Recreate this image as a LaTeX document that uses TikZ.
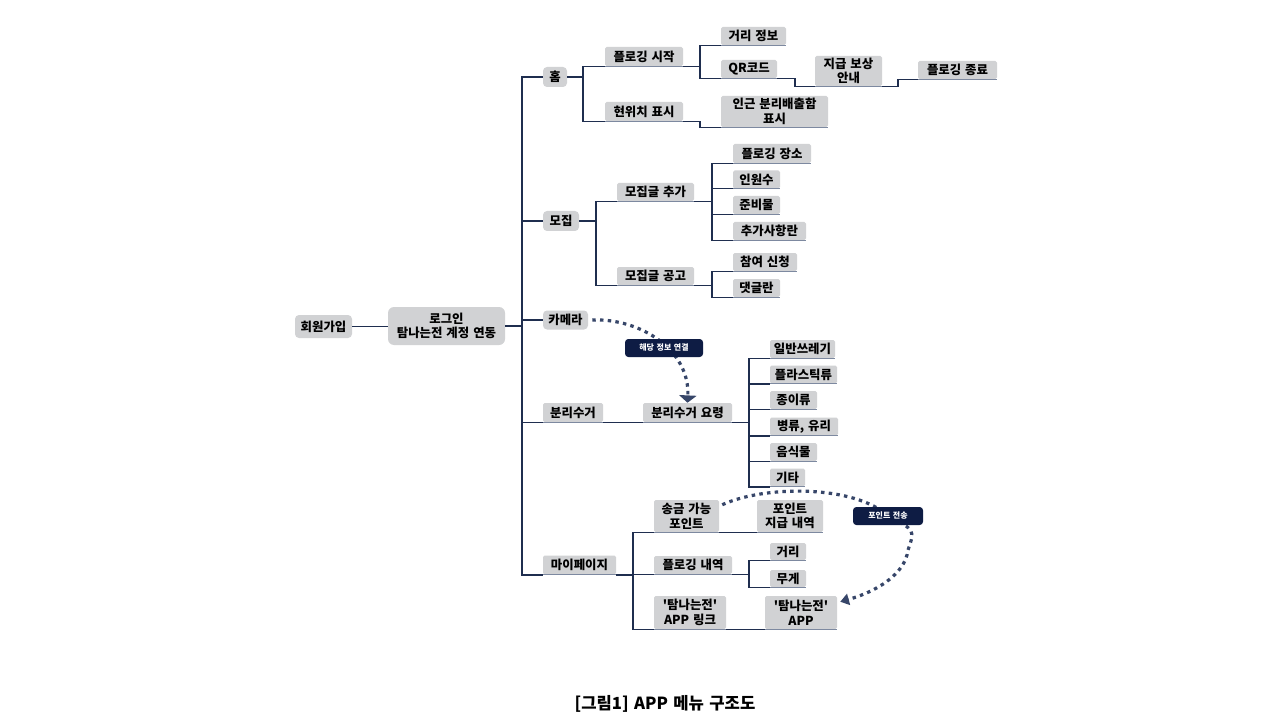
\documentclass[tikz,border=0pt]{standalone}
\usepackage{fontspec}
\setmainfont{Noto Sans CJK KR}[Ligatures=TeXOff,WordSpace=1.4]
\usetikzlibrary{arrows.meta}
\definecolor{boxgray}{RGB}{209,210,212}
\definecolor{navy}{RGB}{31,46,79}
\definecolor{lblnavy}{RGB}{14,28,68}
\definecolor{ulc}{RGB}{125,137,160}
\definecolor{dotc}{RGB}{55,70,105}
\pgfdeclarelayer{back}
\pgfdeclarelayer{mid}
\pgfsetlayers{back,mid,main}
\tikzset{
 sz/.style 2 args={minimum width=#1*0.75pt, minimum height=#2*0.75pt},
 box/.style={fill=boxgray, inner sep=0pt, align=center, text=black,
   font=\bfseries\fontsize{9.3}{11}\selectfont, rounded corners=1.2pt},
 topbox/.style={box, rounded corners=3pt},
 conn/.style={draw=navy, line width=1.1pt},
 ul/.style={draw=ulc, line width=1pt},
 lbl/.style={fill=lblnavy, text=white, rounded corners=2.5pt, inner sep=0pt,
   font=\bfseries\fontsize{6}{7}\selectfont},
 dlink/.style={draw=dotc, line width=2.4pt, dash pattern=on 2.6pt off 3.2pt},
}
\begin{document}
\begin{tikzpicture}[x=0.75pt,y=-0.75pt]
\begin{pgfonlayer}{back}
\fill[white] (0,0) rectangle (1280,720);
\end{pgfonlayer}
\path[use as bounding box] (0,0) rectangle (1280,720);

% level 0
\node[topbox, sz={57}{23}] (join) at (323.5,326.5) {회원가입};
\node[topbox, sz={117}{38}, rounded corners=4.5pt] (login) at (446.5,326) {로그인\\탐나는전 계정 연동};

% level 1
\node[topbox, sz={24}{20}] (home) at (555,77) {홈};
\node[topbox, sz={36}{20}] (recruit) at (561,221) {모집};
\node[topbox, sz={45}{19}] (camera) at (565.5,320) {카메라};
\node[box, sz={60}{19}] (recycle) at (573,412.5) {분리수거};
\node[box, sz={73}{19}] (mypage) at (579.5,565) {마이페이지};

% home branch
\node[box, sz={78}{19}] (ploggingStart) at (644,56.5) {플로깅 시작};
\node[box, sz={78}{19}] (location) at (644,111.5) {현위치 표시};
\node[box, sz={65}{18}] (distInfo) at (753.5,36) {거리 정보};
\node[box, sz={56}{18}] (qr) at (749,69) {QR코드};
\node[box, sz={67}{30}] (reward) at (848.5,71) {지급 보상\\안내};
\node[box, sz={79}{18}] (ploggingEnd) at (957.5,70) {플로깅 종료};
\node[box, sz={107}{31}] (nearby) at (774.5,111.5) {인근 분리배출함\\표시};

% recruit branch
\node[box, sz={77}{18}] (postAdd) at (655.5,192) {모집글 추가};
\node[box, sz={77}{18}] (postAd) at (655.5,276) {모집글 공고};
\node[box, sz={78}{19}] (place) at (772,153.5) {플로깅 장소};
\node[box, sz={47}{18}] (people) at (756.5,179.5) {인원수};
\node[box, sz={47}{18}] (prep) at (756.5,205) {준비물};
\node[box, sz={73}{18}] (extra) at (769.5,231) {추가사항란};
\node[box, sz={64}{18}] (apply) at (765,262) {참여 신청};
\node[box, sz={47}{18}] (comment) at (756.5,288) {댓글란};

% recycle branch
\node[box, sz={89}{19}] (guide) at (687.5,412.5) {분리수거 요령};
\node[box, sz={65}{18}] (general) at (802.5,349) {일반쓰레기};
\node[box, sz={67}{18}] (plastic) at (803.5,374.5) {플라스틱류};
\node[box, sz={47}{18}] (paper) at (793.5,400) {종이류};
\node[box, sz={68}{18}] (glass) at (804,426.5) {병류, 유리};
\node[box, sz={47}{18}] (food) at (793.5,452) {음식물};
\node[box, sz={35}{18}] (etc) at (787.5,477.5) {기타};

% mypage branch
\node[box, sz={65}{32}] (sendable) at (686.5,516) {송금 가능\\포인트};
\node[box, sz={66}{32}] (pointHist) at (790,516) {포인트\\지급 내역};
\node[box, sz={78}{18}] (ploggingHist) at (693,565) {플로깅 내역};
\node[box, sz={36}{17}] (dist) at (788,551.5) {거리};
\node[box, sz={36}{17}] (weight) at (788,578.5) {무게};
\node[box, sz={72}{33}] (appLink) at (690,612.5) {'탐나는전'\\APP 링크};
\node[box, sz={72}{33}] (app) at (801,612.5) {'탐나는전'\\APP};

% underlines
\foreach \n in {recycle,mypage,ploggingStart,location,distInfo,qr,reward,ploggingEnd,nearby,
  postAdd,postAd,place,people,prep,extra,apply,comment,guide,general,plastic,paper,glass,food,etc,
  sendable,pointHist,ploggingHist,dist,weight,appLink,app}
  \draw[ul] (\n.south west) -- (\n.south east);

% trunk
\coordinate (T) at (522,0);
\draw[conn] (join.east) -- (join.east -| login.west);
\draw[conn] (login.east) -- (login.east -| T);
\draw[conn] (home.west) -- (home.west -| T) |- (mypage.south west);
\draw[conn] (recruit.west) -- (recruit.west -| T);
\draw[conn] (camera.west) -- (camera.west -| T);
\draw[conn] (recycle.south west) -- (recycle.south west -| T);

% home connectors
\coordinate (H) at (583,0);
\draw[conn] (home.east) -- (home.east -| H);
\draw[conn] (ploggingStart.south west) -- (ploggingStart.south west -| H) |- (location.south west);
\coordinate (V1) at (700,0);
\draw[conn] (ploggingStart.south east) -- (ploggingStart.south east -| V1);
\draw[conn] (distInfo.south west) -- (distInfo.south west -| V1) |- (qr.south west);
\draw[conn] (location.south east) -| (V1 |- nearby.south) -- (nearby.south west);
\coordinate (V2) at (795,0);
\draw[conn] (qr.south east) -| (V2 |- reward.south) -- (reward.south west);
\coordinate (V3) at (898,0);
\draw[conn] (reward.south east) -| (V3 |- ploggingEnd.south) -- (ploggingEnd.south west);

% recruit connectors
\coordinate (R1) at (596,0);
\draw[conn] (recruit.east) -- (recruit.east -| R1);
\draw[conn] (postAdd.south west) -- (postAdd.south west -| R1) |- (postAd.south west);
\coordinate (R2) at (712,0);
\draw[conn] (postAdd.south east) -- (postAdd.south east -| R2);
\draw[conn] (place.south west) -- (place.south west -| R2) |- (extra.south west);
\draw[conn] (people.south west) -- (people.south west -| R2);
\draw[conn] (prep.south west) -- (prep.south west -| R2);
\draw[conn] (postAd.south east) -- (postAd.south east -| R2);
\draw[conn] (apply.south west) -- (apply.south west -| R2) |- (comment.south west);

% recycle connectors
\draw[conn] (recycle.south east) -- (guide.south west);
\coordinate (S1) at (749,0);
\draw[conn] (guide.south east) -- (guide.south east -| S1);
\draw[conn] (general.south west) -- (general.south west -| S1) |- (etc.south west);
\foreach \n in {plastic,paper,glass,food}
  \draw[conn] (\n.south west) -- (\n.south west -| S1);

% mypage connectors
\coordinate (M1) at (633,0);
\draw[conn] (mypage.south east) -- (mypage.south east -| M1);
\draw[conn] (sendable.south west) -- (sendable.south west -| M1) |- (appLink.south west);
\draw[conn] (ploggingHist.south west) -- (ploggingHist.south west -| M1);
\draw[conn] (sendable.south east) -- (pointHist.south west);
\coordinate (M2) at (749,0);
\draw[conn] (ploggingHist.south east) -- (ploggingHist.south east -| M2);
\draw[conn] (dist.south west) -- (dist.south west -| M2) |- (weight.south west);
\draw[conn] (appLink.south east) -- (app.south west);

% labels
\node[lbl, sz={78}{18}] (lbl1) at (664,348) {해당 정보 연결};
\node[lbl, sz={70}{18}] (lbl2) at (888,516) {포인트 전송};

% dotted links
\begin{pgfonlayer}{mid}
\draw[dlink, -{Triangle[width=13pt,length=5.5pt]}] ([xshift=3pt]camera.east)
  .. controls (640,318) and (690,350) .. (guide.north);
\draw[dlink, -{Triangle[width=8.5pt,length=6.5pt]}] ([shift={(3,5)}]sendable.north east)
  .. controls (765,485) and (855,485) .. (lbl2.center)
  .. controls (915,530) .. (908,550)
  .. controls (905,575) and (875,592) .. ([shift={(3,6)}]app.north east);
\end{pgfonlayer}

% caption
\node[font=\bfseries\fontsize{12.5}{14}\selectfont] (cap) at (665,704) {[그림1] APP 메뉴 구조도};
\end{tikzpicture}
\end{document}
